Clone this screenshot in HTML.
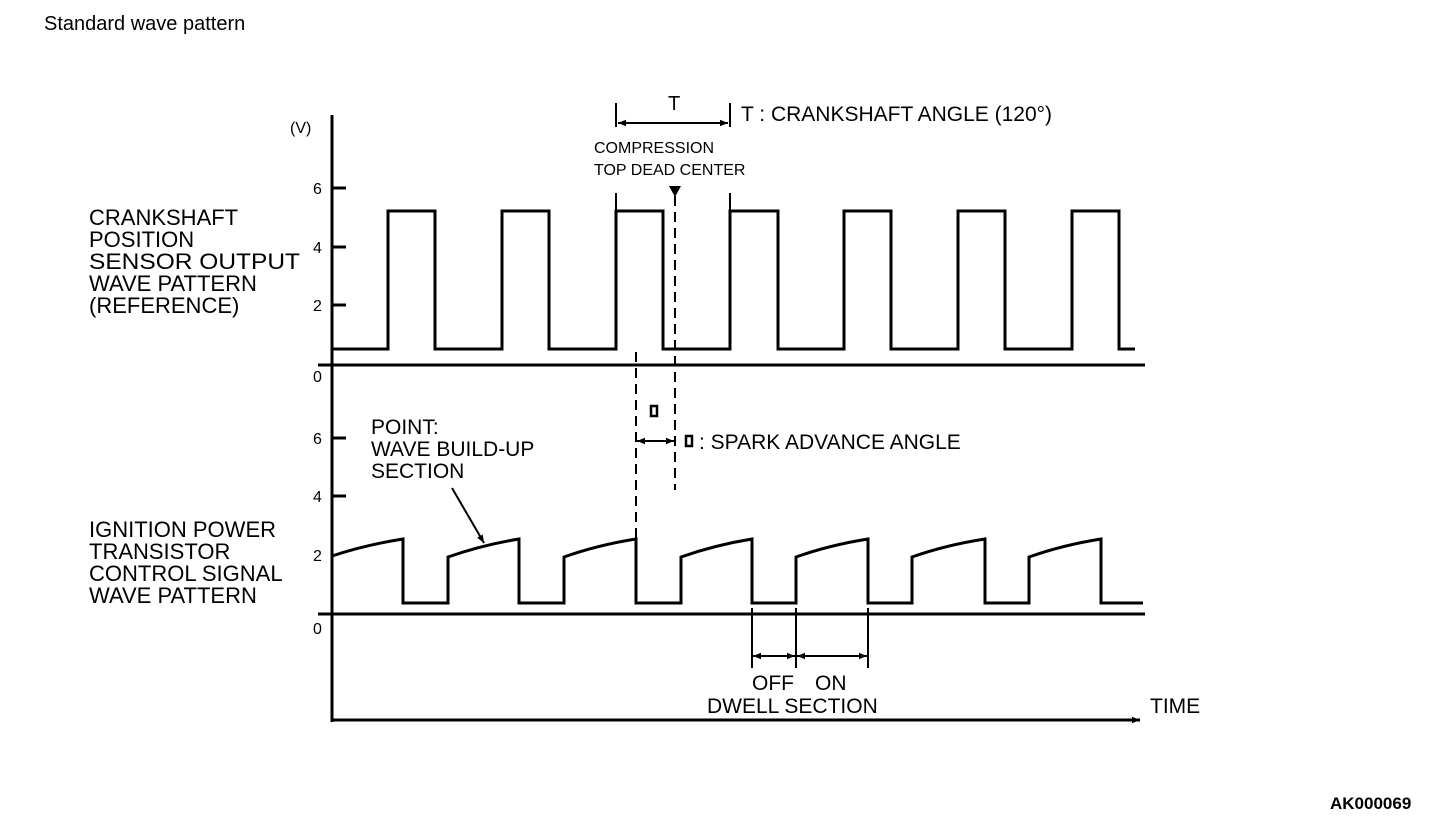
<!DOCTYPE html>
<html><head><meta charset="utf-8"><style>
html,body{margin:0;padding:0;background:#fff}
svg{display:block}
text{font-family:"Liberation Sans",Arial,sans-serif;fill:#000}
</style></head><body>
<svg width="1456" height="822" viewBox="0 0 1456 822" xmlns="http://www.w3.org/2000/svg">
<defs>
<marker id="ah" viewBox="0 0 10 10" refX="10" refY="5" markerWidth="12" markerHeight="8" markerUnits="userSpaceOnUse" orient="auto-start-reverse"><path d="M0,1 L10,5 L0,9 Z" fill="#000"/></marker>
</defs>
<text x="44" y="30" font-size="20">Standard wave pattern</text>
<text x="1330" y="809" font-size="17" font-weight="bold">AK000069</text>

<g stroke="#000" fill="none" stroke-width="3">
<!-- axes -->
<line x1="332" y1="115" x2="332" y2="722"/>
<line x1="318" y1="365" x2="1145" y2="365"/>
<line x1="318" y1="614" x2="1145" y2="614"/>
<line x1="332" y1="720" x2="1140" y2="720" marker-end="url(#ah)"/>
<!-- ticks -->
<line x1="332" y1="188" x2="346" y2="188"/>
<line x1="332" y1="247" x2="346" y2="247"/>
<line x1="332" y1="305" x2="346" y2="305"/>
<line x1="332" y1="438" x2="346" y2="438"/>
<line x1="332" y1="496" x2="346" y2="496"/>
<!-- top wave -->
<path d="M332,349 H388 V211 H435 V349 H502 V211 H549 V349 H616 V211 H663 V349 H730 V211 H778 V349 H844 V211 H891 V349 H958 V211 H1005 V349 H1072 V211 H1119 V349 H1135"/>
<!-- bottom wave -->
<path d="M332,556 Q365,545 403,539 V603 H448 V557 Q482,545 519,539 V603 H564 V557 Q598,545 636,539 V603 H681 V557 Q715,545 752,539 V603 H796 V557 Q830,545 868,539 V603 H912 V557 Q946,545 985,539 V603 H1029 V557 Q1063,545 1101,539 V603 H1143"/>
</g>
<g stroke="#000" fill="none" stroke-width="2">
<!-- T markers -->
<line x1="616" y1="103" x2="616" y2="127"/>
<line x1="730" y1="103" x2="730" y2="127"/>
<line x1="616" y1="193" x2="616" y2="210"/>
<line x1="730" y1="193" x2="730" y2="210"/>
<line x1="618" y1="123" x2="728" y2="123" marker-start="url(#ah)" marker-end="url(#ah)"/>
<!-- dashed -->
<line x1="636" y1="352" x2="636" y2="538" stroke-dasharray="10,6"/>
<line x1="675" y1="196" x2="675" y2="490" stroke-dasharray="10,6"/>
<line x1="637" y1="441" x2="674" y2="441" marker-start="url(#ah)" marker-end="url(#ah)"/>
<!-- dwell -->
<line x1="752" y1="608" x2="752" y2="668"/>
<line x1="796" y1="608" x2="796" y2="668"/>
<line x1="868" y1="608" x2="868" y2="668"/>
<line x1="753" y1="656" x2="795" y2="656" marker-start="url(#ah)" marker-end="url(#ah)"/>
<line x1="797" y1="656" x2="867" y2="656" marker-start="url(#ah)" marker-end="url(#ah)"/>
<!-- pointer -->
<line x1="452" y1="488" x2="484" y2="543" marker-end="url(#ah)"/>
<!-- small rects -->
<rect x="651" y="406" width="6" height="10" stroke-width="2.5"/>
<rect x="686" y="436" width="6" height="10" stroke-width="2.5"/>
</g>
<path d="M669,186 L681,186 L675,197 Z" fill="#000"/>

<text x="668" y="110" font-size="20">T</text>
<text x="741" y="121" font-size="21">T : CRANKSHAFT ANGLE (120°)</text>
<text x="594" y="153" font-size="16">COMPRESSION</text>
<text x="594" y="175" font-size="16">TOP DEAD CENTER</text>
<text x="290" y="133" font-size="16">(V)</text>
<g font-size="16">
<text x="313" y="194">6</text><text x="313" y="253">4</text><text x="313" y="311">2</text><text x="313" y="382">0</text>
<text x="313" y="444">6</text><text x="313" y="502">4</text><text x="313" y="561">2</text><text x="313" y="634">0</text>
</g>
<g font-size="22">
<text x="89" y="225">CRANKSHAFT</text>
<text x="89" y="247">POSITION</text>
<text x="89" y="269" textLength="211" lengthAdjust="spacingAndGlyphs">SENSOR OUTPUT</text>
<text x="89" y="291">WAVE PATTERN</text>
<text x="89" y="313">(REFERENCE)</text>
<text x="89" y="537">IGNITION POWER</text>
<text x="89" y="559">TRANSISTOR</text>
<text x="89" y="581">CONTROL SIGNAL</text>
<text x="89" y="603">WAVE PATTERN</text>
</g>
<g font-size="21">
<text x="371" y="434">POINT:</text>
<text x="371" y="456">WAVE BUILD-UP</text>
<text x="371" y="478">SECTION</text>
<text x="699" y="449">: SPARK ADVANCE ANGLE</text>
<text x="752" y="690">OFF</text>
<text x="815" y="690">ON</text>
<text x="707" y="713">DWELL SECTION</text>
<text x="1150" y="713">TIME</text>
</g>
</svg>
</body></html>
